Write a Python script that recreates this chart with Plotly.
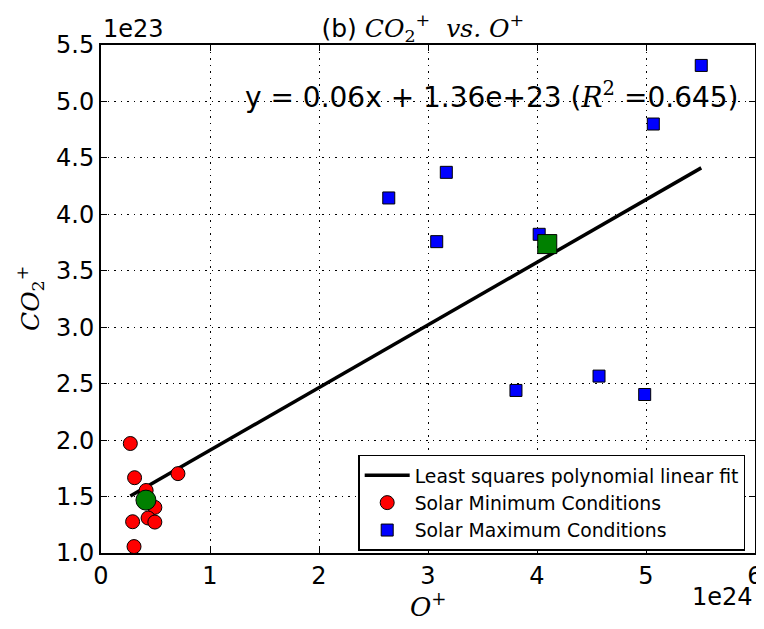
import numpy as np
import plotly.graph_objects as go

# Data (x in units of 1e24, y in units of 1e23)
min_x = [0.269, 0.308, 0.706, 0.414, 0.494, 0.432, 0.494, 0.290, 0.303]
min_y = [1.970, 1.667, 1.703, 1.554, 1.404, 1.310, 1.274, 1.277, 1.057]
max_x = [5.507, 5.067, 3.168, 2.640, 3.080, 4.020, 3.807, 4.569, 4.988]
max_y = [5.319, 4.800, 4.372, 4.145, 3.758, 3.823, 2.440, 2.567, 2.404]
fit_slope = 0.0555       # y per x (actual units)
fit_intercept = 1.355    # 1e23
x_ticks = [0, 1, 2, 3, 4, 5, 6]
y_ticks = [1.0, 1.5, 2.0, 2.5, 3.0, 3.5, 4.0, 4.5, 5.0, 5.5]

all_x = np.array(min_x + max_x)
fx = np.array([all_x.min(), all_x.max()])
fy = fit_slope * 10 * fx + fit_intercept

mean_min = (np.mean(min_x), np.mean(min_y))
mean_max = (np.mean(max_x), np.mean(max_y))

SERIF = "DejaVu Serif"
SANS = "DejaVu Sans"
fig = go.Figure()
fig.add_trace(go.Scatter(x=fx, y=fy, mode="lines", line=dict(color="black", width=3.5),
                         name="Least squares polynomial linear fit"))
fig.add_trace(go.Scatter(x=min_x, y=min_y, mode="markers",
                         marker=dict(symbol="circle", size=14, color="red",
                                     line=dict(color="black", width=1)),
                         name="Solar Minimum Conditions"))
fig.add_trace(go.Scatter(x=max_x, y=max_y, mode="markers",
                         marker=dict(symbol="square", size=12, color="blue",
                                     line=dict(color="black", width=1)),
                         name="Solar Maximum Conditions"))
fig.add_trace(go.Scatter(x=[mean_min[0]], y=[mean_min[1]], mode="markers",
                         marker=dict(symbol="circle", size=20, color="green",
                                     line=dict(color="black", width=1)),
                         showlegend=False))
fig.add_trace(go.Scatter(x=[mean_max[0]], y=[mean_max[1]], mode="markers",
                         marker=dict(symbol="square", size=19, color="green",
                                     line=dict(color="black", width=1)),
                         showlegend=False))

axis_common = dict(showline=True, linecolor="black", linewidth=2, mirror="ticks",
                   ticks="inside", ticklen=6, tickcolor="black", tickwidth=1,
                   showgrid=True, gridcolor="black", gridwidth=1, griddash="1.5px,5px",
                   zeroline=False, automargin=False,
                   tickfont=dict(family=SANS, size=24, color="black"))

fig.update_xaxes(range=[0, 6], tickvals=x_ticks, ticktext=[str(t) for t in x_ticks],
                 **axis_common)
fig.update_yaxes(range=[1.0, 5.5], tickvals=y_ticks, ticktext=[f"{t:.1f}" for t in y_ticks],
                 **axis_common)

fig.update_layout(
    width=764, height=629,
    margin=dict(l=93, r=17, t=37, b=84),
    paper_bgcolor="white", plot_bgcolor="white",
    showlegend=True,
    title=dict(text="(b) <span style='font-family:DejaVu Serif'><i>CO</i><sub>2</sub><sup>+</sup>  <i>vs.</i> <i>O</i><sup>+</sup></span>",
               x=0.543, xanchor="center", y=0.968, yanchor="middle",
               font=dict(family=SANS, size=25, color="black")),
    legend=dict(x=0.985, y=0.193, xanchor="right", yanchor="top",
                bgcolor="white", bordercolor="black", borderwidth=1.5,
                font=dict(family=SANS, size=18.8, color="black"),
                tracegroupgap=0, itemsizing="trace", itemwidth=45),
    annotations=[
        dict(text="1e23", xref="paper", yref="paper", x=0.0, y=1.0, xanchor="left",
             yanchor="bottom", showarrow=False, yshift=0,
             font=dict(family=SANS, size=24, color="black")),
        dict(text="1e24", xref="paper", yref="paper", x=1.0, y=0, xanchor="right",
             yanchor="top", showarrow=False, yshift=-28,
             font=dict(family=SANS, size=24, color="black")),
        dict(text="<i>O</i><sup>+</sup>", xref="paper", yref="paper", x=0.5, y=0,
             xanchor="center", yanchor="middle", showarrow=False, yshift=-52,
             font=dict(family=SERIF, size=26, color="black")),
        dict(text="<i>CO</i><sub>2</sub><sup>+</sup>", xref="paper", yref="paper", x=0, y=0.5,
             xanchor="center", yanchor="middle", showarrow=False, xshift=-71, textangle=-90,
             font=dict(family=SERIF, size=25, color="black")),
        dict(text="y = 0.06x + 1.36e+23 (<span style='font-family:DejaVu Serif'><i>R</i><sup>2</sup></span> =0.645)",
             xref="paper", yref="paper", x=0.979, y=0.90, xanchor="right", yanchor="middle",
             showarrow=False, font=dict(family=SANS, size=28, color="black")),
    ],
)

fig.write_html("out.html")
